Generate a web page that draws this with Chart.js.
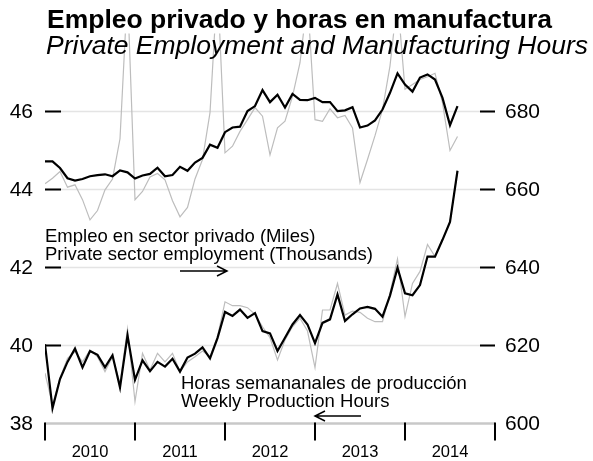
<!DOCTYPE html>
<html>
<head>
<meta charset="utf-8">
<script src="https://cdn.jsdelivr.net/npm/chart.js@4.4.1/dist/chart.umd.min.js"></script>
<style>
  html, body { margin: 0; padding: 0; background: #fff; }
  #wrap { width: 593px; height: 461px; }
</style>
</head>
<body>
<div id="wrap"><canvas id="chart" width="593" height="461"></canvas></div>
<script>
// Monthly index, Jan 2010 .. Aug 2014
const months = [];
for (let yr = 2010; yr <= 2014; yr++) {
    for (let m = 1; m <= 12; m++) {
        if (yr === 2014 && m > 8) break;
        months.push(yr + '-' + String(m).padStart(2, '0'));
    }
}

// Private sector employment (thousands) - right axis
const employmentSA = [667.2, 667.2, 665.5, 662.9, 662.3, 662.7, 663.4, 663.7, 663.9, 663.4, 664.9, 664.4,
    662.8, 663.6, 664.0, 665.6, 663.4, 663.7, 665.8, 664.8, 666.9, 668.1, 671.5, 670.7,
    674.7, 675.9, 676.1, 680.1, 681.4, 685.5, 682.4, 684.3, 681.0, 684.5, 683.0, 682.9,
    683.5, 682.4, 682.4, 680.1, 680.3, 681.1, 675.9, 676.4, 677.7, 680.5, 684.8, 689.8,
    686.9, 685.1, 688.7, 689.5, 688.2, 683.5, 676.5, 681.4];
const employmentRaw = [661.5, 662.9, 664.6, 660.6, 661.2, 657.4, 652.2, 654.6, 659.9, 662.7, 673.0, 711.0,
    657.4, 659.5, 663.2, 664.1, 662.5, 657.1, 653.0, 655.4, 662.7, 667.7, 679.7, 713.0,
    669.4, 671.1, 674.9, 677.9, 681.0, 678.8, 668.9, 675.8, 677.5, 683.9, 692.5, 709.0,
    677.9, 677.5, 680.7, 678.4, 679.0, 675.8, 661.8, 667.7, 673.8, 680.5, 691.7, 709.0,
    685.7, 686.9, 688.2, 688.9, 689.8, 682.2, 670.0, 673.6];

// Weekly production hours - left axis
const hoursSA = [40.03, 38.39, 39.14, 39.58, 39.92, 39.44, 39.86, 39.76, 39.44, 39.75, 38.92, 40.26,
    39.12, 39.62, 39.34, 39.58, 39.46, 39.66, 39.33, 39.69, 39.79, 39.95, 39.67, 40.19,
    40.86, 40.76, 40.92, 40.71, 40.83, 40.37, 40.31, 39.86, 40.20, 40.54, 40.78, 40.54,
    40.06, 40.58, 40.67, 41.31, 40.63, 40.80, 40.95, 40.99, 40.94, 40.74, 41.28, 41.99,
    41.34, 41.29, 41.55, 42.28, 42.28, 42.71, 43.17, 44.48];
const hoursRaw = [39.29, 38.47, 39.17, 39.67, 39.84, 39.58, 39.88, 39.71, 39.33, 39.71, 39.03, 40.42,
    38.56, 39.80, 39.37, 39.80, 39.58, 39.80, 39.33, 39.58, 39.71, 39.86, 39.71, 40.23,
    41.12, 41.02, 41.02, 40.97, 40.80, 40.48, 40.20, 39.63, 40.14, 40.48, 40.70, 40.37,
    39.43, 40.91, 40.91, 41.59, 40.78, 40.88, 40.85, 40.70, 40.61, 40.61, 41.34, 42.22,
    40.74, 41.59, 41.90, 42.59, 42.28, 42.71, 43.17, 44.48];

// Axis ticks
const leftTicks = [38, 40, 42, 44, 46];
const rightTicks = [600, 620, 640, 660, 680];
const yearTicks = [0, 12, 24, 36, 48, 60];
const yearLabels = ['2010', '2011', '2012', '2013', '2014'];

const FONT = '"Liberation Sans", Arial, Helvetica, sans-serif';

function toPoints(arr) {
    return arr.map((v, i) => ({ x: i, y: v }));
}

function arrow(ctx, x1, y, x2) {
    // open arrowhead at x2
    const dir = x2 > x1 ? 1 : -1;
    ctx.beginPath();
    ctx.moveTo(x1, y);
    ctx.lineTo(x2, y);
    ctx.moveTo(x2 - dir * 10, y - 5);
    ctx.lineTo(x2, y);
    ctx.lineTo(x2 - dir * 10, y + 5);
    ctx.stroke();
}

const axisPlugin = {
    id: 'axisPlugin',
    beforeDatasetsDraw(chart) {
        const { ctx, chartArea: a, scales } = chart;
        const y = scales.y;
        ctx.save();
        // light grid lines
        ctx.strokeStyle = '#e4e4e4';
        ctx.lineWidth = 1.5;
        leftTicks.forEach(v => {
            if (v === 38) return;
            const py = y.getPixelForValue(v);
            ctx.beginPath();
            ctx.moveTo(a.left, py);
            ctx.lineTo(a.right, py);
            ctx.stroke();
        });
        // bottom axis line
        ctx.strokeStyle = '#c8c8c8';
        ctx.lineWidth = 2.5;
        const by = y.getPixelForValue(38);
        ctx.beginPath();
        ctx.moveTo(a.left, by);
        ctx.lineTo(a.right, by);
        ctx.stroke();
        ctx.restore();
    },
    afterDraw(chart) {
        const { ctx, chartArea: a, scales } = chart;
        const x = scales.x, y = scales.y, y2 = scales.y2;
        ctx.save();
        ctx.strokeStyle = '#000';
        ctx.fillStyle = '#000';
        ctx.lineWidth = 2;

        // inward y ticks
        leftTicks.forEach(v => {
            if (v === 38) return;
            const py = y.getPixelForValue(v);
            ctx.beginPath();
            ctx.moveTo(a.left, py);
            ctx.lineTo(a.left + 16, py);
            ctx.stroke();
        });
        rightTicks.forEach(v => {
            if (v === 600) return;
            const py = y2.getPixelForValue(v);
            ctx.beginPath();
            ctx.moveTo(a.right - 15, py);
            ctx.lineTo(a.right, py);
            ctx.stroke();
        });

        // year ticks
        const by = y.getPixelForValue(38);
        yearTicks.forEach(v => {
            const px = x.getPixelForValue(v);
            ctx.beginPath();
            ctx.moveTo(px, by - 1);
            ctx.lineTo(px, by + 17);
            ctx.stroke();
        });

        // tick labels
        ctx.font = '21px ' + FONT;
        ctx.textBaseline = 'middle';
        ctx.textAlign = 'right';
        leftTicks.forEach(v => ctx.fillText(String(v), 33, y.getPixelForValue(v) + 1));
        ctx.textAlign = 'left';
        rightTicks.forEach(v => ctx.fillText(String(v), 505, y2.getPixelForValue(v) + 1));

        ctx.font = '16.5px ' + FONT;
        ctx.textAlign = 'center';
        yearLabels.forEach((lab, i) => {
            const px = x.getPixelForValue((yearTicks[i] + yearTicks[i + 1]) / 2);
            ctx.fillText(lab, px, by + 29);
        });

        // series notes
        ctx.textAlign = 'left';
        ctx.textBaseline = 'alphabetic';
        ctx.font = '18.5px ' + FONT;
        ctx.fillText('Empleo en sector privado (Miles)', 45, 242);
        ctx.fillText('Private sector employment (Thousands)', 45, 260);
        ctx.fillText('Horas semananales de producción', 181, 389);
        ctx.fillText('Weekly Production Hours', 181, 407);
        ctx.lineWidth = 1.5;
        arrow(ctx, 180, 271, 227);
        arrow(ctx, 361, 416, 315);

        // titles
        ctx.font = 'bold 26.5px ' + FONT;
        ctx.fillText('Empleo privado y horas en manufactura', 47, 28);
        ctx.font = 'italic 26.5px ' + FONT;
        ctx.fillText('Private Employment and Manufacturing Hours', 46, 54);
        ctx.restore();
    }
};

const ctx = document.getElementById('chart').getContext('2d');
new Chart(ctx, {
    type: 'line',
    data: {
        datasets: [
            {
                label: 'Empleo (desestacionalizado)',
                data: toPoints(employmentSA),
                yAxisID: 'y2',
                borderColor: '#000',
                borderWidth: 2.2,
                pointRadius: 0,
                tension: 0,
                order: 0
            },
            {
                label: 'Horas (desestacionalizado)',
                data: toPoints(hoursSA),
                yAxisID: 'y',
                borderColor: '#000',
                borderWidth: 2.2,
                pointRadius: 0,
                tension: 0,
                order: 0
            },
            {
                label: 'Empleo',
                data: toPoints(employmentRaw),
                yAxisID: 'y2',
                borderColor: '#bdbdbd',
                borderWidth: 1.2,
                pointRadius: 0,
                tension: 0,
                order: 1
            },
            {
                label: 'Horas',
                data: toPoints(hoursRaw),
                yAxisID: 'y',
                borderColor: '#bdbdbd',
                borderWidth: 1.2,
                pointRadius: 0,
                tension: 0,
                order: 1
            }
        ]
    },
    options: {
        responsive: false,
        animation: false,
        devicePixelRatio: 1,
        layout: {
            padding: { left: 45, right: 98, top: 33.5, bottom: 37.5 }
        },
        plugins: {
            legend: { display: false },
            tooltip: { enabled: false }
        },
        scales: {
            x: { type: 'linear', min: 0, max: 60, display: false },
            y: { type: 'linear', min: 38, max: 48, display: false },
            y2: { type: 'linear', min: 600, max: 700, display: false }
        }
    },
    plugins: [axisPlugin]
});
</script>
</body>
</html>
